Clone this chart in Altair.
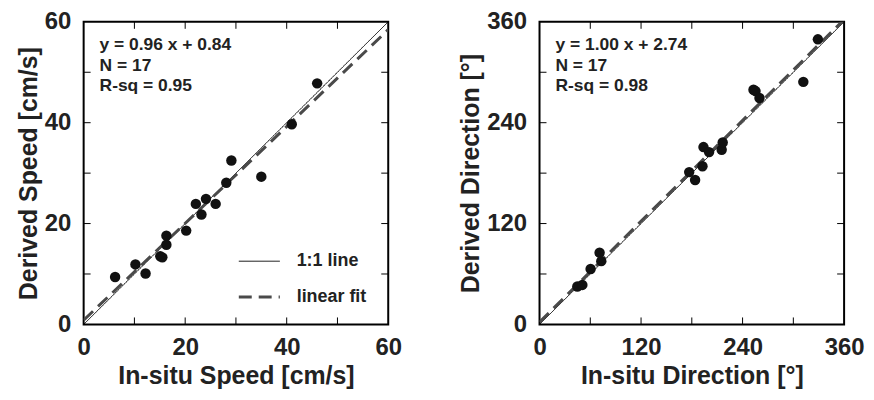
import altair as alt
import pandas as pd

FONT = "Liberation Sans, Arial, sans-serif"

# ---- data: speed panel ----
speed_insitu = [6.2, 10.2, 12.2, 15.1, 15.5, 16.3, 16.3, 20.2, 23.2, 22.1, 24.1, 26.0, 28.1, 29.1, 35.0, 41.0, 46.0]
speed_derived = [9.4, 11.9, 10.1, 13.5, 13.3, 15.8, 17.6, 18.6, 21.8, 23.9, 24.9, 23.9, 28.1, 32.5, 29.3, 39.7, 47.8]
speed_fit = (0.96, 0.84)
speed_ann = ["y = 0.96 x + 0.84", "N = 17", "R-sq = 0.95"]
speed_labels = [0, 20, 40, 60]
speed_ticks = [10, 20, 30, 40, 50]

# ---- data: direction panel ----
dir_insitu = [44.7, 50.6, 60.4, 71.0, 73.0, 176.9, 183.9, 192.6, 193.8, 200.4, 215.3, 216.5, 252.9, 255.3, 260.0, 311.8, 329.0]
dir_derived = [45.1, 47.0, 65.9, 85.4, 75.3, 181.2, 171.8, 188.2, 211.0, 205.0, 207.8, 216.5, 279.2, 277.6, 269.4, 288.6, 339.2]
dir_fit = (1.00, 2.74)
dir_ann = ["y = 1.00 x + 2.74", "N = 17", "R-sq = 0.98"]
dir_labels = [0, 120, 240, 360]
dir_ticks = [60, 120, 180, 240, 300]

legend_names = ["1:1 line", "linear fit"]

W = 306
H = 304
TL = 7  # inner tick length in px


def panel(xs, ys, dom, labels, ticks, xtitle, ytitle, fit, ann, show_legend):
    xsc = alt.Scale(domain=[0, dom], nice=False, zero=False)
    ysc = alt.Scale(domain=[0, dom], nice=False, zero=False)
    xax = alt.Axis(values=labels, title=xtitle, ticks=False, domain=False, grid=False,
                   labelPadding=11, titlePadding=4, labelFlush=False)
    yax = alt.Axis(values=labels, title=ytitle, ticks=False, domain=False, grid=False,
                   labelPadding=13, titlePadding=3, labelFlush=False)

    pts = pd.DataFrame({"x": xs, "y": ys})
    m, b = fit
    lines = pd.DataFrame({
        "line": [legend_names[0], legend_names[0], legend_names[1], legend_names[1]],
        "x": [0, dom, 0, dom],
        "y": [0, dom, b, m * dom + b],
        "ord": [0, 1, 0, 1],
    })
    tk = pd.DataFrame({"v": ticks})

    if show_legend:
        leg = alt.Legend(title=None, orient="none", legendX=154, legendY=219,
                         symbolType="stroke", symbolSize=1700, labelFont=FONT,
                         labelFontSize=18, labelFontWeight="bold", labelColor="#222",
                         labelOffset=15, rowPadding=4, symbolStrokeColor="black")
    else:
        leg = None
    line_layer = alt.Chart(lines).mark_line(clip=True).encode(
        x=alt.X("x:Q", scale=xsc, axis=xax),
        y=alt.Y("y:Q", scale=ysc, axis=yax),
        detail="line:N",
        order="ord:Q",
        color=alt.Color("line:N", scale=alt.Scale(domain=legend_names, range=["#000000", "#4a4a4a"]), legend=leg),
        strokeDash=alt.StrokeDash("line:N", scale=alt.Scale(domain=legend_names, range=[[1, 0], [13, 7]]), legend=leg),
        strokeWidth=alt.StrokeWidth("line:N", scale=alt.Scale(domain=legend_names, range=[1, 3]), legend=leg),
    )

    point_layer = alt.Chart(pts).mark_circle(size=110, opacity=1, color="#111111").encode(
        x=alt.X("x:Q", scale=xsc), y=alt.Y("y:Q", scale=ysc)
    )

    bottom = alt.Chart(tk).mark_rule(color="black", strokeWidth=1).encode(
        x=alt.X("v:Q", scale=xsc), y=alt.value(H), y2=alt.value(H - TL))
    top = alt.Chart(tk).mark_rule(color="black", strokeWidth=1).encode(
        x=alt.X("v:Q", scale=xsc), y=alt.value(0), y2=alt.value(TL))
    left = alt.Chart(tk).mark_rule(color="black", strokeWidth=1).encode(
        y=alt.Y("v:Q", scale=ysc), x=alt.value(0), x2=alt.value(TL))
    right = alt.Chart(tk).mark_rule(color="black", strokeWidth=1).encode(
        y=alt.Y("v:Q", scale=ysc), x=alt.value(W), x2=alt.value(W - TL))

    ann_df = pd.DataFrame({"t": [ann]})
    text = alt.Chart(ann_df).mark_text(
        align="left", baseline="top", font=FONT, fontSize=17.5, fontWeight="bold",
        color="#222", lineHeight=21
    ).encode(x=alt.value(16), y=alt.value(14), text="t")

    return alt.layer(line_layer, point_layer, bottom, top, left, right, text).properties(
        width=W, height=H
    )


p1 = panel(speed_insitu, speed_derived, 60, speed_labels, speed_ticks,
           "In-situ Speed [cm/s]", "Derived Speed [cm/s]", speed_fit, speed_ann, True)
p2 = panel(dir_insitu, dir_derived, 360, dir_labels, dir_ticks,
           "In-situ Direction [°]", "Derived Direction [°]", dir_fit, dir_ann, False)

chart = alt.hconcat(p1, p2, spacing=54).properties(
    padding={"left": 7, "top": 0, "right": 0, "bottom": 3},
    background="white",
).resolve_scale(
    color="independent", strokeDash="independent", strokeWidth="independent"
).configure_view(
    stroke="black", strokeWidth=2
).configure_axis(
    labelFont=FONT, labelFontSize=24, labelFontWeight="bold", labelColor="#222",
    titleFont=FONT, titleFontSize=25, titleFontWeight="bold", titleColor="#222",
)

chart.save("out.html", embed_options={"renderer": "svg", "actions": False})
